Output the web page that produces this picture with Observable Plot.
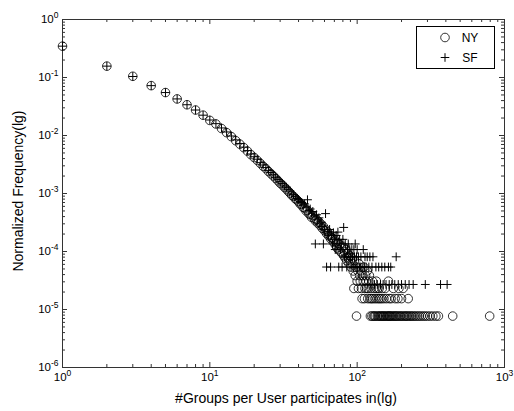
<!DOCTYPE html>
<html><head><meta charset="utf-8">
<script src="https://cdn.jsdelivr.net/npm/d3@7"></script>
<script src="https://cdn.jsdelivr.net/npm/@observablehq/plot@0.6"></script>
<style>
body{margin:0;background:#fff;}
#chart{width:514px;height:411px;}
</style></head><body><div id="chart"></div>
<script>
// ---- data ----
const seriesNames = ["NY", "SF"];
const xLabel = "#Groups per User participates in(lg)";
const yLabel = "Normalized Frequency(lg)";
const xTickValues = [1, 10, 100, 1000];
const yTickValues = [1e-6, 1e-5, 1e-4, 1e-3, 1e-2, 1e-1, 1];

const nyPoints = [
[1,0.347],[2,0.157],[3,0.105],[4,0.0724],[5,0.055],[6,0.0427],[7,0.0339],[8,0.0275],[9,0.0224],[10,0.0182],
[11,0.0158],[12,0.0132],[13,0.0112],[14,0.00955],[15,0.00813],[16,0.00708],[17,0.00617],[18,0.00537],[19,0.00468],[20,0.00417],
[21,0.00372],[22,0.00331],[23,0.00295],[24,0.00269],[25,0.0024],[26,0.00219],[27,0.002],[28,0.00182],[29,0.00166],[30,0.00151],
[31,0.00141],[32,0.00129],[33,0.0012],[34,0.0011],[35,0.00102],[36,0.000933],[37,0.000891],[38,0.000813],[39,0.000776],[40,0.000724],
[41,0.000661],[42,0.000646],[43,0.000575],[44,0.000562],[45,0.000501],[46,0.000513],[47,0.000447],[48,0.000437],[49,0.000389],[50,0.000417],
[51,0.000372],[52,0.000339],[53,0.000355],[54,0.000309],[55,0.000324],[56,0.000282],[57,0.000295],[58,0.000251],[59,0.000269],[60,0.000229],
[61,0.00024],[62,0.000204],[63,0.000219],[64,0.000186],[65,0.000195],[66,0.000166],[67,0.000174],
[68,1.69e-4],[69,1.46e-4],[70,1.62e-4],[71,1.31e-4],[72,1.46e-4],[73,1.155e-4],[74,1.39e-4],[75,1.08e-4],[76,1.31e-4],[77,1.0e-4],
[78,1.155e-4],[79,9.24e-5],[80,1.23e-4],[81,8.47e-5],[82,1.0e-4],[83,7.7e-5],[84,1.08e-4],[85,6.93e-5],[86,9.24e-5],[87,7.7e-5],
[88,6.16e-5],[89,8.47e-5],[90,6.93e-5],[91,5.39e-5],[92,7.7e-5],[93,6.16e-5],[94,4.62e-5],[95,2.31e-5],[96,6.93e-5],[97,3.85e-5],
[98,5.39e-5],[99,7.7e-6],[100,3.08e-5],[101,4.62e-5],[102,2.31e-5],[103,6.16e-5],[104,3.85e-5],[105,3.08e-5],[106,4.62e-5],[107,2.31e-5],
[108,1.54e-5],[109,3.85e-5],[110,3.08e-5],[111,5.39e-5],[112,1.54e-5],[113,2.31e-5],[114,3.85e-5],[115,3.08e-5],[116,2.31e-5],[117,4.62e-5],
[118,1.54e-5],[119,2.31e-5],[120,3.08e-5],[121,3.85e-5],[122,1.54e-5],[123,7.7e-6],[124,2.31e-5],[125,1.54e-5],[126,7.7e-6],[127,3.08e-5],
[128,1.54e-5],[129,7.7e-6],[130,2.31e-5],[131,7.7e-6],[132,1.54e-5],[133,7.7e-6],[134,2.31e-5],[135,3.08e-5],[136,1.54e-5],[137,7.7e-6],
[138,2.31e-5],[139,7.7e-6],[140,1.54e-5],[141,2.31e-5],[142,7.7e-6],[143,1.54e-5],[144,7.7e-6],[146,7.7e-6],[147,1.54e-5],[148,2.31e-5],
[149,7.7e-6],[151,7.7e-6],[152,1.54e-5],[153,7.7e-6],[155,2.31e-5],[156,7.7e-6],[158,1.54e-5],[159,7.7e-6],[161,7.7e-6],[163,3.08e-5],
[164,7.7e-6],[165,1.54e-5],[166,7.7e-6],[168,7.7e-6],[170,1.54e-5],[171,7.7e-6],[174,7.7e-6],[176,2.31e-5],[177,7.7e-6],[180,7.7e-6],
[181,1.54e-5],[183,7.7e-6],[186,7.7e-6],[189,1.54e-5],[190,7.7e-6],[192,2.31e-5],[194,7.7e-6],[197,7.7e-6],[200,1.54e-5],[201,7.7e-6],
[205,2.31e-5],[206,7.7e-6],[210,7.7e-6],[214,7.7e-6],[218,7.7e-6],[222,1.54e-5],[223,7.7e-6],[228,7.7e-6],[233,7.7e-6],[238,7.7e-6],
[244,7.7e-6],[250,7.7e-6],[257,7.7e-6],[264,7.7e-6],[272,7.7e-6],[281,7.7e-6],[290,7.7e-6],[300,7.7e-6],[312,7.7e-6],[326,7.7e-6],
[342,7.7e-6],[356,7.7e-6],[445,7.7e-6],[793,7.7e-6]
];

const sfPoints = [
[1,0.347],[2,0.157],[3,0.104],[4,0.0724],[5,0.055],[6,0.0427],[7,0.0339],[8,0.0275],[9,0.0224],[10,0.0185],
[11,0.016],[12,0.0135],[13,0.0115],[14,0.0098],[15,0.0084],[16,0.0073],[17,0.0063],[18,0.0055],[19,0.0048],[20,0.0043],
[21,0.0039],[22,0.0034],[23,0.0031],[24,0.0028],[25,0.0025],[26,0.0023],[27,0.0021],[28,0.0019],[29,0.00175],[30,0.0016],
[31,0.00148],[32,0.00135],[33,0.00128],[34,0.00118],[35,0.0011],[36,0.00098],[37,0.00095],[38,0.00088],[39,0.00082],[40,0.00079],
[41,0.00073],[42,0.0007],[43,0.00063],[44,0.00066],[45,0.00058],[46,0.00078],[47,0.00051],[48,0.00054],[49,0.00046],[50,0.00049],
[51,0.00041],[52,0.000135],[53,0.00043],[54,0.00035],[55,0.00038],[56,0.0003],[57,0.00032],[58,0.00027],[59,0.000135],[60,0.00024],
[61,0.00045],[62,0.000054],[63,0.00022],[64,0.00019],[65,0.00024],[66,0.000054],[67,0.00019],[68,0.000135],[69,0.00021],[70,0.000162],
[71,0.000108],[72,0.000189],[73,0.000135],[74,0.000216],[75,0.000054],[76,0.000162],[77,0.000108],[78,0.000135],[79,0.000054],[80,0.000162],
[81,0.00026],[82,0.000081],[83,0.000135],[84,0.000081],[85,0.000054],[86,0.000108],[87,0.000135],[88,0.000081],[89,0.000108],[90,0.000081],
[91,0.000054],[92,0.000108],[93,0.000081],[94,0.000054],[95,0.000108],[96,0.000081],[97,0.000135],[98,0.000054],[99,0.000081],[100,0.000108],
[101,0.000054],[102,0.000081],[104,0.000054],[105,0.000054],[106,0.000081],[108,0.000054],[110,0.000108],[112,0.000054],[113,0.000081],[115,0.000054],
[117,0.000081],[118,0.000027],[120,0.000054],[122,0.000081],[124,0.000027],[126,0.000054],[128,0.000081],[131,0.000027],[134,0.000054],[137,0.000027],
[140,0.000054],[144,0.000027],[147,0.000054],[150,0.000027],[154,0.000054],[157,0.000027],[163,0.000054],[165,0.000027],[169,0.000054],[172,0.000027],
[180,0.000027],[184,0.000081],[190,0.000027],[200,0.000027],[212,0.000027],[225,0.000027],[240,0.000027],[290,0.000027],[368,0.000027],[408,0.000027]
];

// ---- layout ----
const W = 514, H = 411, mL = 62, mR = 10, mT = 19, mB = 44;
const fw = W - mL - mR, fh = H - mT - mB;
const axisColor = "#333";
const xMinor = xTickValues.slice(0, -1).flatMap(d => [2,3,4,5,6,7,8,9].map(m => m * d));
const yMinor = yTickValues.slice(0, -1).flatMap(d => [2,3,4,5,6,7,8,9].map(m => m * d));
const expFmt = d => "10|" + Math.round(Math.log10(d));

const plusSymbol = {
  draw(ctx, size) {
    const r = Math.sqrt(size / Math.PI);
    ctx.moveTo(-r, 0); ctx.lineTo(r, 0);
    ctx.moveTo(0, -r); ctx.lineTo(0, r);
  }
};

const ny = nyPoints.map(([x, y]) => ({x, y}));
const sf = sfPoints.map(([x, y]) => ({x, y}));

const svg = Plot.plot({
  width: W, height: H,
  marginLeft: mL, marginRight: mR, marginTop: mT, marginBottom: mB,
  style: {fontFamily: "'Liberation Sans', Arial, sans-serif", fontSize: "11.5px", color: "#000", background: "#fff"},
  x: {type: "log", domain: [1, 1000]},
  y: {type: "log", domain: [1e-6, 1]},
  marks: [
    Plot.tickX(xTickValues, {x: d => d, insetTop: fh - 5, stroke: axisColor}),
    Plot.tickX(xTickValues, {x: d => d, insetBottom: fh - 5, stroke: axisColor}),
    Plot.tickX(xMinor, {x: d => d, insetTop: fh - 3, stroke: axisColor}),
    Plot.tickX(xMinor, {x: d => d, insetBottom: fh - 3, stroke: axisColor}),
    Plot.tickY(yTickValues, {y: d => d, insetRight: fw - 5, stroke: axisColor}),
    Plot.tickY(yTickValues, {y: d => d, insetLeft: fw - 5, stroke: axisColor}),
    Plot.tickY(yMinor, {y: d => d, insetRight: fw - 3, stroke: axisColor}),
    Plot.tickY(yMinor, {y: d => d, insetLeft: fw - 3, stroke: axisColor}),
    Plot.frame({stroke: axisColor}),
    Plot.axisX(xTickValues, {tickSize: 0, tickPadding: 5, tickFormat: expFmt, label: null}),
    Plot.axisY(yTickValues, {tickSize: 0, tickPadding: 4, tickFormat: expFmt, label: null}),
    Plot.dot(ny, {x: "x", y: "y", r: 4.3, stroke: "#000", fill: "none", strokeWidth: 0.8}),
    Plot.dot(sf, {x: "x", y: "y", r: 4.4, symbol: plusSymbol, stroke: "#000", fill: "none", strokeWidth: 1})
  ]
});

// superscript tick labels
const s = d3.select(svg);
s.selectAll('g[aria-label="x-axis tick label"] text, g[aria-label="y-axis tick label"] text').each(function() {
  const [base, exp] = this.textContent.split("|");
  const t = d3.select(this);
  t.text(null);
  t.append("tspan").text(base);
  t.append("tspan").attr("dy", -5).attr("font-size", "8.5px").text(exp);
});

// axis titles
s.append("text").attr("x", 286).attr("y", 403).attr("text-anchor", "middle")
  .attr("font-size", "14px").attr("fill", "#000").text(xLabel);
s.append("text").attr("transform", "translate(23,191) rotate(-90)").attr("text-anchor", "middle")
  .attr("font-size", "14px").attr("fill", "#000").text(yLabel);

// legend
const lg = s.append("g");
lg.append("rect").attr("x", 416.5).attr("y", 26.5).attr("width", 78).attr("height", 42)
  .attr("fill", "#fff").attr("stroke", "#000");
const rows = [{name: seriesNames[0], sym: d3.symbolCircle}, {name: seriesNames[1], sym: plusSymbol}];
rows.forEach((r, i) => {
  const cy = 37.5 + i * 20;
  lg.append("path").attr("transform", `translate(445,${cy})`)
    .attr("d", d3.symbol(r.sym, Math.PI * 4.3 * 4.3)())
    .attr("fill", "none").attr("stroke", "#000").attr("stroke-width", i === 0 ? 0.8 : 1);
  lg.append("text").attr("x", 470).attr("y", cy + 4.3).attr("font-size", "12px").attr("fill", "#000").text(r.name);
});

document.getElementById("chart").appendChild(svg);
</script>
</body></html>
